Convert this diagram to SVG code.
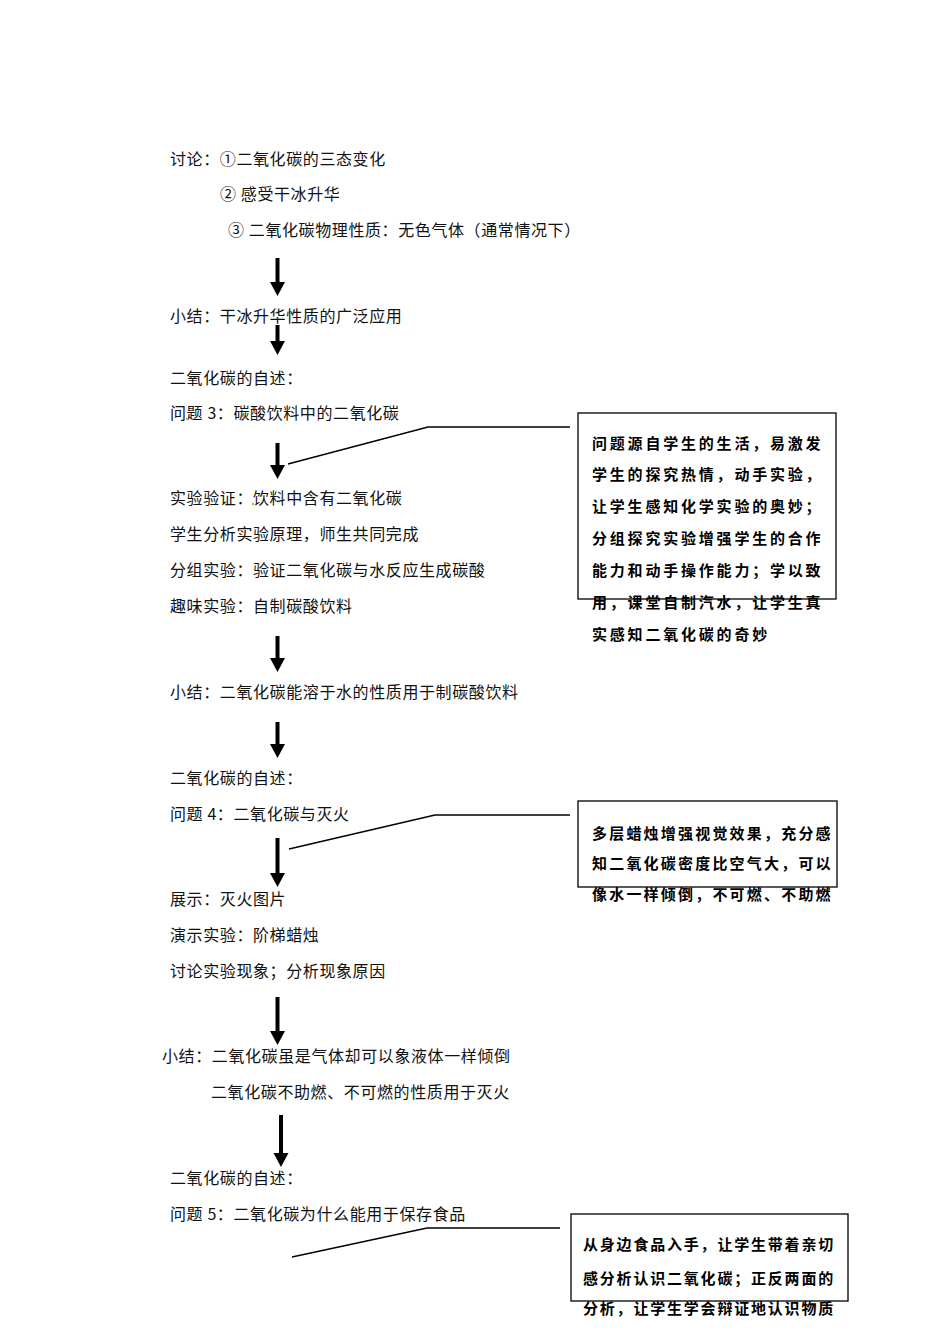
<svg xmlns="http://www.w3.org/2000/svg" width="950" height="1344" viewBox="0 0 950 1344">
<style>
.t{font-family:"Noto Sans CJK SC","Liberation Sans",sans-serif;font-size:16px;letter-spacing:0.6px;fill:#111}
.b{font-family:"Noto Sans CJK SC","Liberation Sans",sans-serif;font-size:15px;font-weight:bold;fill:#000}
.box{fill:#fff;stroke:#000;stroke-width:1.3}
.ln{fill:none;stroke:#000;stroke-width:1.3}
.ar{fill:#000}
</style>
<defs>
<path id="arrowhead" d="M-7.5,0 L7.5,0 L0,14 Z"/>
</defs>
<rect width="950" height="1344" fill="#fff"/>

<g id="connectors">
<!-- thick down arrows -->
<g class="ar">
<rect x="275.5" y="258" width="4" height="26"/><use href="#arrowhead" x="277.5" y="282"/>
<rect x="275.5" y="325" width="4" height="18"/><use href="#arrowhead" x="277.5" y="341"/>
<rect x="275.5" y="443" width="4" height="24"/><use href="#arrowhead" x="277.5" y="465"/>
<rect x="275.5" y="636" width="4" height="24"/><use href="#arrowhead" x="277.5" y="658"/>
<rect x="275.5" y="722" width="4" height="24"/><use href="#arrowhead" x="277.5" y="744"/>
<rect x="275.5" y="838" width="4" height="37"/><use href="#arrowhead" x="277.5" y="873"/>
<rect x="275.5" y="997" width="4" height="36"/><use href="#arrowhead" x="277.5" y="1031"/>
<rect x="279" y="1115" width="4" height="40"/><use href="#arrowhead" x="281" y="1153"/>
</g>
<!-- callout lines -->
<polyline class="ln" points="288,464 428,427 570,427"/>
<polyline class="ln" points="289,849 435,815 570,815"/>
<polyline class="ln" points="292,1257 427,1228 560,1228"/>
</g>

<g id="main-text">
<text class="t" x="170" y="165">讨论：①二氧化碳的三态变化</text>
<text class="t" x="220" y="200">② 感受干冰升华</text>
<text class="t" x="228" y="236">③ 二氧化碳物理性质：无色气体（通常情况下）</text>
<text class="t" x="170" y="322">小结：干冰升华性质的广泛应用</text>
<text class="t" x="170" y="384">二氧化碳的自述：</text>
<text class="t" x="170" y="419">问题 3：碳酸饮料中的二氧化碳</text>
<rect x="186" y="418" width="2" height="2" fill="#c8b400"/>
<text class="t" x="170" y="504">实验验证：饮料中含有二氧化碳</text>
<rect x="252" y="503" width="2" height="2" fill="#c8b400"/>
<text class="t" x="170" y="540">学生分析实验原理，师生共同完成</text>
<text class="t" x="170" y="576">分组实验：验证二氧化碳与水反应生成碳酸</text>
<text class="t" x="170" y="612">趣味实验：自制碳酸饮料</text>
<text class="t" x="170" y="698">小结：二氧化碳能溶于水的性质用于制碳酸饮料</text>
<text class="t" x="170" y="784">二氧化碳的自述：</text>
<text class="t" x="170" y="820">问题 4：二氧化碳与灭火</text>
<text class="t" x="170" y="905">展示：灭火图片</text>
<text class="t" x="170" y="941">演示实验：阶梯蜡烛</text>
<text class="t" x="170" y="977">讨论实验现象；分析现象原因</text>
<text class="t" x="162" y="1062">小结：二氧化碳虽是气体却可以象液体一样倾倒</text>
<text class="t" x="211" y="1098">二氧化碳不助燃、不可燃的性质用于灭火</text>
<text class="t" x="170" y="1184">二氧化碳的自述：</text>
<text class="t" x="170" y="1220">问题 5：二氧化碳为什么能用于保存食品</text>
</g>

<g id="note1">
<rect class="box" x="578" y="413" width="258" height="186"/>
<g class="b" style="letter-spacing:2.8px">
<text x="592" y="449">问题源自学生的生活，易激发</text>
<text x="592" y="480">学生的探究热情，动手实验，</text>
<text x="592" y="512">让学生感知化学实验的奥妙；</text>
<text x="592" y="544">分组探究实验增强学生的合作</text>
<text x="592" y="576">能力和动手操作能力；学以致</text>
<text x="592" y="608">用，课堂自制汽水，让学生真</text>
<text x="592" y="640">实感知二氧化碳的奇妙</text>
</g>
</g>

<g id="note2">
<rect class="box" x="578" y="801" width="259" height="86"/>
<g class="b" style="letter-spacing:2.2px">
<text x="592" y="839">多层蜡烛增强视觉效果，充分感</text>
<text x="592" y="869">知二氧化碳密度比空气大，可以</text>
<text x="592" y="900">像水一样倾倒，不可燃、不助燃</text>
</g>
</g>

<g id="note3">
<rect class="box" x="571" y="1214" width="277" height="87"/>
<g class="b" style="letter-spacing:1.8px">
<text x="583" y="1250">从身边食品入手，让学生带着亲切</text>
<text x="583" y="1284">感分析认识二氧化碳；正反两面的</text>
<text x="583" y="1314">分析，让学生学会辩证地认识物质</text>
</g>
</g>
</svg>
